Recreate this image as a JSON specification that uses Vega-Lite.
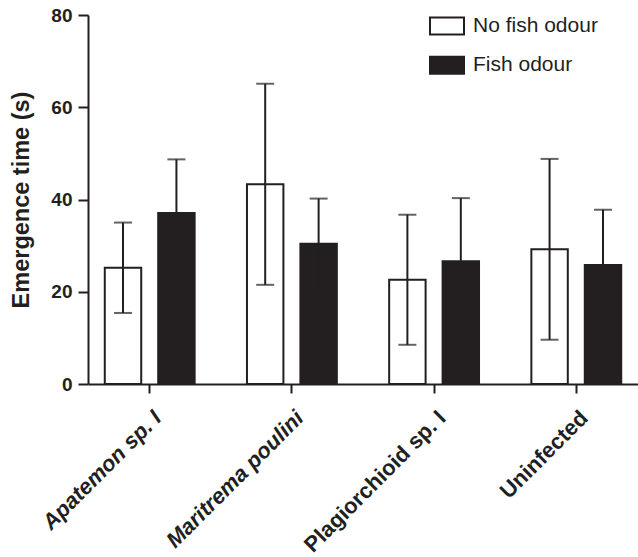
{
  "$schema": "https://vega.github.io/schema/vega-lite/v6.json",
  "autosize": "none",
  "width": 550,
  "height": 369,
  "padding": {"left": 88, "top": 15, "right": 0, "bottom": 173},
  "background": "white",
  "config": {
    "view": {"stroke": null},
    "font": "Liberation Sans",
    "axis": {
      "domainColor": "#231f20", "domainWidth": 2,
      "tickColor": "#231f20", "tickWidth": 2,
      "labelColor": "#231f20", "titleColor": "#231f20",
      "labelFont": "Liberation Sans", "titleFont": "Liberation Sans",
      "labelFontWeight": "bold", "titleFontWeight": "bold",
      "grid": false
    },
    "legend": {
      "labelFont": "Liberation Sans", "labelFontSize": 21, "labelColor": "#231f20"
    }
  },
  "data": {
    "values": [
      {"group": "Apatemon sp. I", "condition": "No fish odour", "mean": 25.2, "lo": 15.4, "hi": 35.0},
      {"group": "Apatemon sp. I", "condition": "Fish odour", "mean": 37.1, "lo": 25.5, "hi": 48.7},
      {"group": "Maritrema poulini", "condition": "No fish odour", "mean": 43.3, "lo": 21.5, "hi": 65.1},
      {"group": "Maritrema poulini", "condition": "Fish odour", "mean": 30.4, "lo": 20.6, "hi": 40.2},
      {"group": "Plagiorchioid sp. I", "condition": "No fish odour", "mean": 22.6, "lo": 8.5, "hi": 36.7},
      {"group": "Plagiorchioid sp. I", "condition": "Fish odour", "mean": 26.6, "lo": 12.9, "hi": 40.3},
      {"group": "Uninfected", "condition": "No fish odour", "mean": 29.2, "lo": 9.6, "hi": 48.8},
      {"group": "Uninfected", "condition": "Fish odour", "mean": 25.8, "lo": 13.8, "hi": 37.8}
    ]
  },
  "encoding": {
    "x": {
      "field": "group", "type": "nominal", "sort": null,
      "scale": {"paddingInner": 0.368, "paddingOuter": 0.118},
      "axis": {
        "title": null, "labelAngle": -45, "labelAlign": "right", "labelBaseline": "middle",
        "labelFontSize": 22, "tickSize": 9, "labelPadding": 21, "labelOffset": 8,
        "labelLimit": 0, "labelOverlap": false,
        "labelFontStyle": {"expr": "datum.value === 'Maritrema poulini' || datum.value === 'Apatemon sp. I' ? 'italic' : 'normal'"}
      }
    },
    "xOffset": {
      "field": "condition", "type": "nominal", "sort": ["No fish odour", "Fish odour"],
      "scale": {"paddingInner": 0.318, "paddingOuter": 0}
    }
  },
  "layer": [
    {
      "mark": {"type": "bar", "stroke": "#231f20", "strokeWidth": 2},
      "encoding": {
        "y": {
          "field": "mean", "type": "quantitative",
          "scale": {"domain": [0, 80]},
          "axis": {
            "title": "Emergence time (s)", "titleFontSize": 23.5, "titlePadding": 17,
            "values": [0, 20, 40, 60, 80], "labelFontSize": 19, "tickSize": 10, "labelPadding": 6
          }
        },
        "fill": {
          "field": "condition", "type": "nominal",
          "sort": ["No fish odour", "Fish odour"],
          "scale": {"domain": ["No fish odour", "Fish odour"], "range": ["white", "#231f20"]},
          "legend": {
            "title": null, "orient": "none", "legendX": 341, "legendY": -7,
            "symbolType": "M-1,-0.5H1V0.5H-1Z", "symbolSize": 1156,
            "symbolStrokeColor": "#231f20", "symbolStrokeWidth": 2,
            "rowPadding": 8.3, "labelOffset": 8
          }
        }
      }
    },
    {
      "mark": {"type": "rule", "color": "#231f20", "strokeWidth": 2},
      "encoding": {
        "y": {"field": "lo", "type": "quantitative"},
        "y2": {"field": "hi"}
      }
    },
    {
      "mark": {"type": "tick", "color": "#231f20", "thickness": 2, "size": 18},
      "encoding": {"y": {"field": "hi", "type": "quantitative"}}
    },
    {
      "mark": {"type": "tick", "color": "#231f20", "thickness": 2, "size": 18},
      "encoding": {"y": {"field": "lo", "type": "quantitative"}}
    }
  ]
}
